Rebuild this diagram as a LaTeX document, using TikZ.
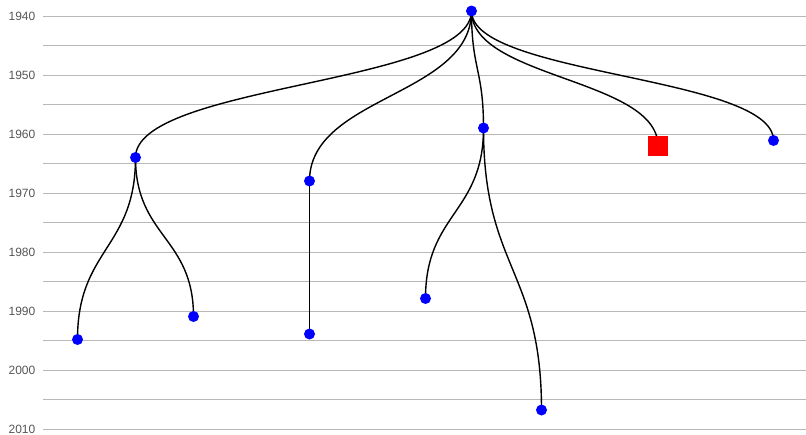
\documentclass[tikz,border=0pt]{standalone}
\usepackage{fontspec}
\setmainfont{Liberation Sans}
\usetikzlibrary{calc}
\definecolor{gridgray}{HTML}{B8B8B8}
\definecolor{labelgray}{HTML}{555555}
\definecolor{dotblue}{HTML}{0000FF}
\definecolor{boxred}{HTML}{FF0000}
\tikzset{
  gridline/.style={draw=gridgray, line width=1pt},
  yearlabel/.style={anchor=east, text=labelgray, font=\fontsize{12}{14}\selectfont, inner sep=0pt},
  dot/.style={circle, fill=dotblue, minimum size=11pt, inner sep=0pt},
  redbox/.style={rectangle, fill=boxred, minimum size=20pt, inner sep=0pt},
  branchline/.style={draw=black, line width=1.4pt},
}
% vertical-tangent link from parent p to child c
\newcommand\treelink[2]{%
  \draw[branchline] let \p1=(#1), \p2=(#2) in
    (\x1,\y1) .. controls (\x1,{(\y1+\y2)/2}) and (\x2,{(\y1+\y2)/2}) .. (\x2,\y2);}
\begin{document}
\begin{tikzpicture}[x=1pt, y=-1pt]
  \useasboundingbox (0,0) rectangle (806,434);
  % horizontal grid every five years, labels every ten
  \foreach \k in {0,...,14} {
    \draw[gridline] (43,{16+\k*29.5}) -- (806,{16+\k*29.5});
  }
  \foreach \k/\yr in {0/1940,1/1950,2/1960,3/1970,4/1980,5/1990,6/2000,7/2010} {
    \node[yearlabel] (lab\yr) at (35.5,{16+\k*59}) {\yr};
  }
  % tree positions
  \coordinate (root) at (471.5,11);
  \coordinate (a) at (135.5,157.5);
  \coordinate (b) at (309.5,181);
  \coordinate (c) at (483.5,128);
  \coordinate (d) at (658,146);
  \coordinate (e) at (773.5,140.5);
  \coordinate (a1) at (77.5,339.5);
  \coordinate (a2) at (193.5,316.5);
  \coordinate (b1) at (309.5,334);
  \coordinate (c1) at (425.5,298.5);
  \coordinate (c2) at (541.5,410);
  % branches
  \treelink{root}{a}
  \treelink{root}{b}
  \treelink{root}{c}
  \treelink{root}{d}
  \treelink{root}{e}
  \treelink{a}{a1}
  \treelink{a}{a2}
  \treelink{b}{b1}
  \treelink{c}{c1}
  \treelink{c}{c2}
  % markers
  \foreach \n in {root,a,b,c,e,a1,a2,b1,c1,c2} {
    \node[dot] (m\n) at (\n) {};
  }
  \node[redbox] (md) at (d) {};
\end{tikzpicture}
\end{document}
